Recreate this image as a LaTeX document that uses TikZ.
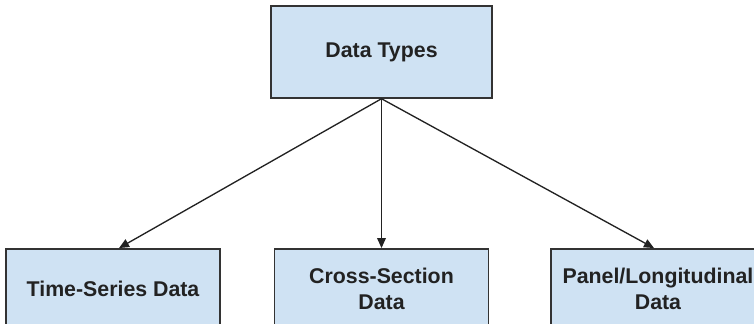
\documentclass[tikz,border=0pt]{standalone}
\usepackage{fontspec}
\setmainfont{Liberation Sans}
\usepackage{tikz}
\usetikzlibrary{arrows.meta,positioning}
\definecolor{boxblue}{HTML}{CFE2F3}
\definecolor{boxline}{HTML}{333333}
\definecolor{inkdark}{HTML}{222222}

\begin{document}
\begin{tikzpicture}[x=0.75pt, y=-0.75pt,
    box/.style={rectangle, draw=boxline, fill=boxblue, line width=1.1pt,
                minimum width=160.5pt, minimum height=60pt, inner sep=0pt,
                font=\fontsize{16}{19.5}\selectfont\bfseries, text=inkdark, align=center},
    arr/.style={-{Triangle[length=7.5pt,width=6.5pt]}, line width=1pt, inkdark}
]
\useasboundingbox (0,0) rectangle (754,324);
\clip (0,0) rectangle (754,324);

\node[box, minimum width=165.75pt, minimum height=69pt] (types) at (381.5,52) {Data Types};
\node[box, below=112pt of types] (cross) {Cross-Section\\Data};
\node[box, left=39.75pt of cross] (series) {Time-Series Data};
\node[box, right=45.75pt of cross] (panel) {Panel/Longitudinal\\Data};

\draw[arr] (types.south) -- ([xshift=4.5pt]series.north);
\draw[arr] (types.south) -- (cross.north);
\draw[arr] (types.south) -- ([xshift=-3pt]panel.north);
\end{tikzpicture}
\end{document}
